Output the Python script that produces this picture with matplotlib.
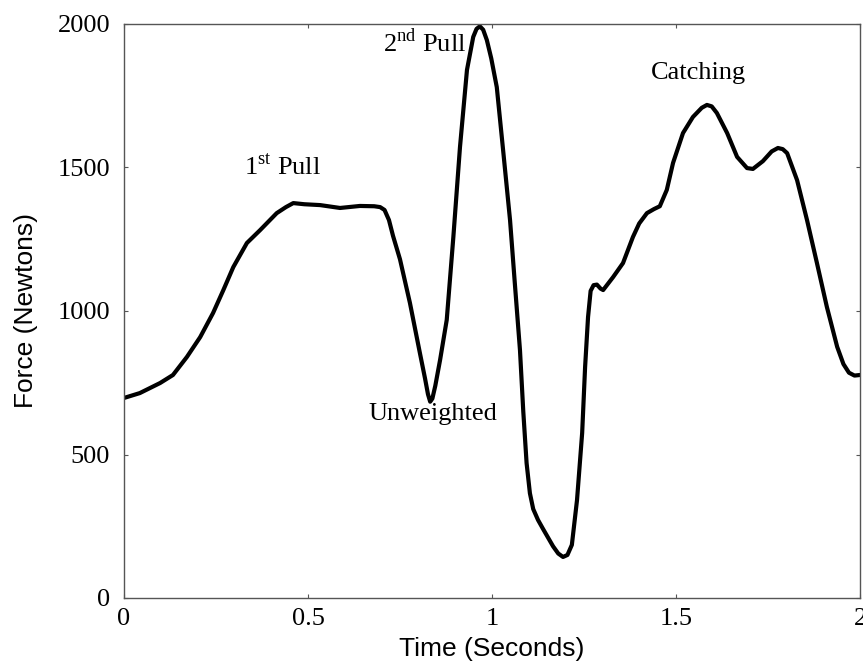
import matplotlib
matplotlib.use("Agg")
import matplotlib.pyplot as plt

time_s = [0.000, 0.043, 0.098, 0.133, 0.171, 0.207, 0.242, 0.270, 0.297, 0.334,
          0.370, 0.415, 0.440, 0.460, 0.490, 0.533, 0.587, 0.641, 0.680, 0.696,
          0.708, 0.720, 0.731, 0.750, 0.777, 0.804, 0.818, 0.826, 0.832, 0.838,
          0.846, 0.859, 0.877, 0.895, 0.913, 0.932, 0.949, 0.958, 0.967, 0.976,
          0.986, 0.998, 1.013, 1.031, 1.049, 1.062, 1.076, 1.085, 1.094, 1.103,
          1.112, 1.125, 1.139, 1.166, 1.180, 1.193, 1.205, 1.217, 1.231, 1.245,
          1.253, 1.261, 1.268, 1.276, 1.285, 1.295, 1.302, 1.329, 1.356, 1.383,
          1.400, 1.421, 1.440, 1.456, 1.475, 1.492, 1.519, 1.546, 1.570, 1.584,
          1.597, 1.611, 1.639, 1.666, 1.693, 1.709, 1.736, 1.760, 1.777, 1.790,
          1.802, 1.829, 1.856, 1.883, 1.910, 1.938, 1.955, 1.970, 1.985, 2.000]
force_n = [697, 714, 749, 777, 840, 909, 993, 1073, 1153, 1237,
           1282, 1341, 1362, 1376, 1372, 1369, 1359, 1366, 1365, 1362,
           1352, 1317, 1262, 1180, 1028, 854, 765, 710, 684, 695,
           740, 830, 969, 1258, 1571, 1840, 1955, 1983, 1992, 1980,
           1944, 1880, 1780, 1550, 1317, 1097, 864, 650, 470, 365,
           310, 272, 240, 180, 155, 143, 150, 185, 341, 575,
           805, 979, 1070, 1090, 1092, 1078, 1073, 1118, 1167, 1258,
           1305, 1341, 1355, 1365, 1422, 1516, 1620, 1676, 1708, 1718,
           1713, 1690, 1620, 1537, 1498, 1495, 1522, 1556, 1568, 1564,
           1550, 1456, 1317, 1167, 1014, 875, 815, 785, 775, 777]

x_ticks = [0, 0.5, 1, 1.5, 2]
x_tick_labels = ["0", "0.5", "1", "1.5", "2"]
y_ticks = [0, 500, 1000, 1500, 2000]
y_tick_labels = ["0", "500", "1000", "1500", "2000"]

annotations = [
    (r"1$^{\mathrm{st}}$ Pull", 0.43, 1505),
    (r"2$^{\mathrm{nd}}$ Pull", 0.818, 1935),
    ("Unweighted", 0.84, 640),
    ("Catching", 1.56, 1830),
]

plt.rcParams['mathtext.fontset'] = 'custom'
plt.rcParams['mathtext.rm'] = 'Liberation Serif'

fig = plt.figure(figsize=(8.63, 6.63), dpi=100)
ax = fig.add_axes([124/863, 1 - 598/663, (860-124)/863, (598-24)/663])

ax.plot(time_s, force_n, color="black", lw=3.0,
        solid_joinstyle="round", solid_capstyle="round")

ax.set_xlim(0, 2)
ax.set_ylim(0, 2000)
ax.set_xticks(x_ticks)
ax.set_xticklabels(x_tick_labels, family="Liberation Serif", fontsize=19)
ax.set_yticks(y_ticks)
ax.set_yticklabels(y_tick_labels, family="Liberation Serif", fontsize=19)
ax.tick_params(direction="in", length=3, width=0.8, top=True, right=True,
               color="#555555")
ax.tick_params(axis="x", pad=7)
ax.tick_params(axis="y", pad=10)
for s in ax.spines.values():
    s.set_color("#555555")
    s.set_linewidth(1.0)

ax.set_xlabel("Time (Seconds)", family="Liberation Sans", fontsize=19, labelpad=5)
ax.set_ylabel("Force (Newtons)", family="Liberation Sans", fontsize=19, labelpad=14)

for txt, x, y in annotations:
    ax.text(x, y, txt, family="Liberation Serif", fontsize=19,
            ha="center", va="center")

fig.savefig("out.png", dpi=100)
